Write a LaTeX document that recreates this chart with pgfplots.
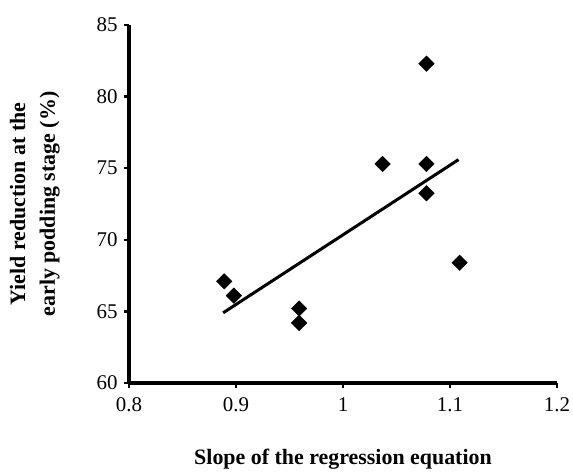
\documentclass[border=0pt]{standalone}
\usepackage{fontspec}
\setmainfont{Liberation Serif}
\usepackage{pgfplots}
\pgfplotsset{compat=1.18}
\begin{document}
\begin{tikzpicture}
\useasboundingbox (-129bp,-90bp) rectangle (444bp,383bp);
\begin{axis}[
  scale only axis, width=428bp, height=358bp,
  xmin=0.8, xmax=1.2, ymin=60, ymax=85,
  axis x line*=bottom, axis y line*=left,
  axis line style={-, line width=3.5bp, black},
  xtick={0.8,0.9,1,1.1,1.2}, xticklabels={0.8,0.9,1,1.1,1.2},
  ytick={60,65,70,75,80,85},
  tick align=outside, major tick length=5bp,
  tick style={line width=2.5bp, black},
  /pgf/number format/assume math mode=true,
  ticklabel style={font=\fontsize{21}{25}\selectfont},
  xticklabel style={yshift=-6bp},
  yticklabel style={xshift=-3bp},
  xlabel={Slope of the regression equation},
  xlabel style={at={(axis description cs:0.5,-0.229)}, anchor=base, font=\bfseries\fontsize{22}{26}\selectfont},
  ylabel={Yield reduction at the\\early podding stage (\%)},
  ylabel style={at={(axis description cs:-0.22,0.5)}, anchor=center, align=center, font=\bfseries\fontsize{22}{30}\selectfont},
  clip=false,
]
\addplot[only marks, mark=square*, mark size=5.5bp, mark options={rotate=45, fill=black, draw=black}] coordinates {
  (0.889,67.1) (0.898,66.1) (0.959,65.2) (0.959,64.2) (1.037,75.3)
  (1.078,82.3) (1.078,75.3) (1.078,73.25) (1.109,68.4)
};
\addplot[black, line width=3bp, no marks] coordinates {(0.888,64.9) (1.108,75.6)};
\end{axis}
\end{tikzpicture}
\end{document}
